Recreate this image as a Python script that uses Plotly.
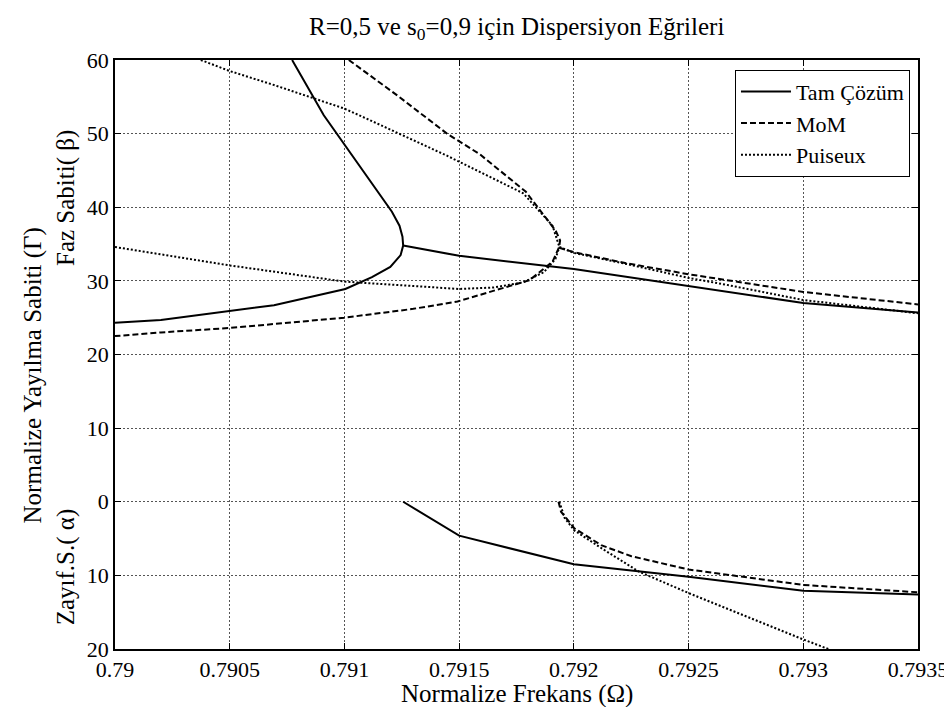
import plotly.graph_objects as go

# ---------------- data ----------------
# Tam Çözüm (exact solution) - phase constant beta, loop through the nose
tam_beta_loop_x = [0.790772, 0.79091, 0.791207, 0.79124, 0.791253, 0.791256, 0.791245, 0.7912, 0.79112, 0.791004, 0.790693, 0.7905, 0.7902, 0.79]
tam_beta_loop_y = [60, 52.5, 39.4, 37.5, 36.0, 34.8, 33.5, 31.9, 30.5, 28.9, 26.7, 25.9, 24.7, 24.3]
# Tam Çözüm - beta, right branch
tam_beta_right_x = [0.791256, 0.7915, 0.792, 0.7925, 0.793, 0.7935]
tam_beta_right_y = [34.8, 33.4, 31.6, 29.3, 27.0, 25.7]
# Tam Çözüm - attenuation alpha (plotted below zero)
tam_alpha_x = [0.791256, 0.7915, 0.792, 0.7925, 0.793, 0.7935]
tam_alpha_y = [0, -4.6, -8.5, -10.2, -12.1, -12.6]

# MoM - beta loop
mom_beta_loop_x = [0.791019, 0.79123, 0.791447, 0.79159, 0.791791, 0.791921, 0.79194, 0.791936, 0.791907, 0.791807, 0.791493, 0.7913, 0.791, 0.7905, 0.7902, 0.79]
mom_beta_loop_y = [60, 55.2, 50, 47.2, 42.1, 36.8, 35.5, 34.6, 32.6, 30.1, 27.2, 26.2, 25.0, 23.6, 23.0, 22.5]
# MoM - beta right branch
mom_beta_right_x = [0.791936, 0.792, 0.792228, 0.7925, 0.793, 0.7935]
mom_beta_right_y = [34.5, 33.9, 32.4, 30.9, 28.5, 26.8]
# MoM - alpha
mom_alpha_x = [0.791933, 0.791944, 0.792002, 0.792119, 0.792251, 0.7925, 0.793, 0.7935]
mom_alpha_y = [0, -1.35, -3.6, -5.9, -7.4, -9.2, -11.3, -12.3]

# Puiseux - beta upper branch
pui_beta_up_x = [0.790374, 0.7905, 0.790693, 0.79086, 0.791, 0.791099, 0.791447, 0.791779, 0.791907, 0.791937]
pui_beta_up_y = [60, 58.5, 56.6, 54.9, 53.4, 52.0, 47.0, 41.9, 37.5, 34.6]
# Puiseux - beta lower branch
pui_beta_low_x = [0.79, 0.7905, 0.791, 0.7915, 0.79165, 0.79178, 0.79187, 0.79192, 0.791937]
pui_beta_low_y = [34.6, 32.1, 29.9, 28.9, 29.1, 29.8, 31.2, 33.0, 34.6]
# Puiseux - beta right branch
pui_beta_right_x = [0.791937, 0.792, 0.792228, 0.7925, 0.79266, 0.793, 0.7935]
pui_beta_right_y = [34.6, 33.8, 32.3, 30.4, 29.5, 27.4, 25.6]
# Puiseux - alpha
pui_alpha_x = [0.791937, 0.79196, 0.792002, 0.79213, 0.792284, 0.7925, 0.793, 0.793109]
pui_alpha_y = [0, -2.2, -3.9, -6.5, -9.5, -12.4, -18.7, -20]

x_tickvals = [0.79, 0.7905, 0.791, 0.7915, 0.792, 0.7925, 0.793, 0.7935]
x_ticktext = ["0.79", "0.7905", "0.791", "0.7915", "0.792", "0.7925", "0.793", "0.7935"]
y_tickvals = [-20, -10, 0, 10, 20, 30, 40, 50, 60]
y_ticktext = ["20", "10", "0", "10", "20", "30", "40", "50", "60"]

# ---------------- figure ----------------
FONT = "Liberation Serif"
fig = go.Figure()

def add(xs, ys, name, dash, show):
    fig.add_trace(go.Scatter(
        x=xs, y=ys, mode="lines", name=name, legendgroup=name, showlegend=show,
        line=dict(color="black", width=2, dash=dash)))

add(tam_beta_loop_x, tam_beta_loop_y, "Tam Çözüm", "solid", True)
add(tam_beta_right_x, tam_beta_right_y, "Tam Çözüm", "solid", False)
add(tam_alpha_x, tam_alpha_y, "Tam Çözüm", "solid", False)
add(mom_beta_loop_x, mom_beta_loop_y, "MoM", "6px,3px", True)
add(mom_beta_right_x, mom_beta_right_y, "MoM", "6px,3px", False)
add(mom_alpha_x, mom_alpha_y, "MoM", "6px,3px", False)
add(pui_beta_up_x, pui_beta_up_y, "Puiseux", "2px,2px", True)
add(pui_beta_low_x, pui_beta_low_y, "Puiseux", "2px,2px", False)
add(pui_beta_right_x, pui_beta_right_y, "Puiseux", "2px,2px", False)
add(pui_alpha_x, pui_alpha_y, "Puiseux", "2px,2px", False)

axis_common = dict(
    showline=True, linecolor="black", linewidth=1.5, mirror="ticks",
    ticks="inside", ticklen=6, tickcolor="black",
    showgrid=True, gridcolor="#555", gridwidth=1, griddash="2px,2px",
    zeroline=False, tickfont=dict(family=FONT, size=22, color="black"),
)

fig.update_xaxes(range=[0.79, 0.7935], tickvals=x_tickvals, ticktext=x_ticktext, **axis_common)
fig.update_yaxes(range=[-20, 60], tickvals=y_tickvals, ticktext=y_ticktext, **axis_common)

TXT = dict(family=FONT, size=25, color="black")
fig.update_layout(
    width=952, height=707,
    margin=dict(l=107, r=39, t=52, b=66),
    paper_bgcolor="white", plot_bgcolor="white",
    font=dict(family=FONT, color="black", size=22),
    showlegend=True,
    legend=dict(x=0.99, y=0.9835, xanchor="right", yanchor="top",
                bgcolor="white", bordercolor="black", borderwidth=1,
                font=dict(family=FONT, size=22, color="black"), tracegroupgap=0,
                itemwidth=50),
    annotations=[
        dict(text="R=0,5 ve s<sub>0</sub>=0,9 için Dispersiyon Eğrileri", xref="paper", yref="paper",
             x=0.5, y=1.054, xanchor="center", yanchor="middle", showarrow=False,
             font=dict(family=FONT, size=25, color="black")),
        dict(text="Normalize Frekans (Ω)", xref="paper", yref="paper",
             x=0.5, y=-0.0764, xanchor="center", yanchor="middle", showarrow=False, font=TXT),
        dict(text="Normalize Yayılma Sabiti (Γ)", xref="paper", yref="paper",
             x=-0.1017, y=0.465, textangle=-90, showarrow=False, xanchor="center", yanchor="middle",
             font=TXT),
        dict(text="Faz Sabiti( β)", xref="paper", yref="paper",
             x=-0.0608, y=0.766, textangle=-90, showarrow=False, xanchor="center", yanchor="middle",
             font=TXT),
        dict(text="Zayıf.S.( α)", xref="paper", yref="paper",
             x=-0.0608, y=0.139, textangle=-90, showarrow=False, xanchor="center", yanchor="middle",
             font=TXT),
    ],
)

fig.write_html("out.html")
